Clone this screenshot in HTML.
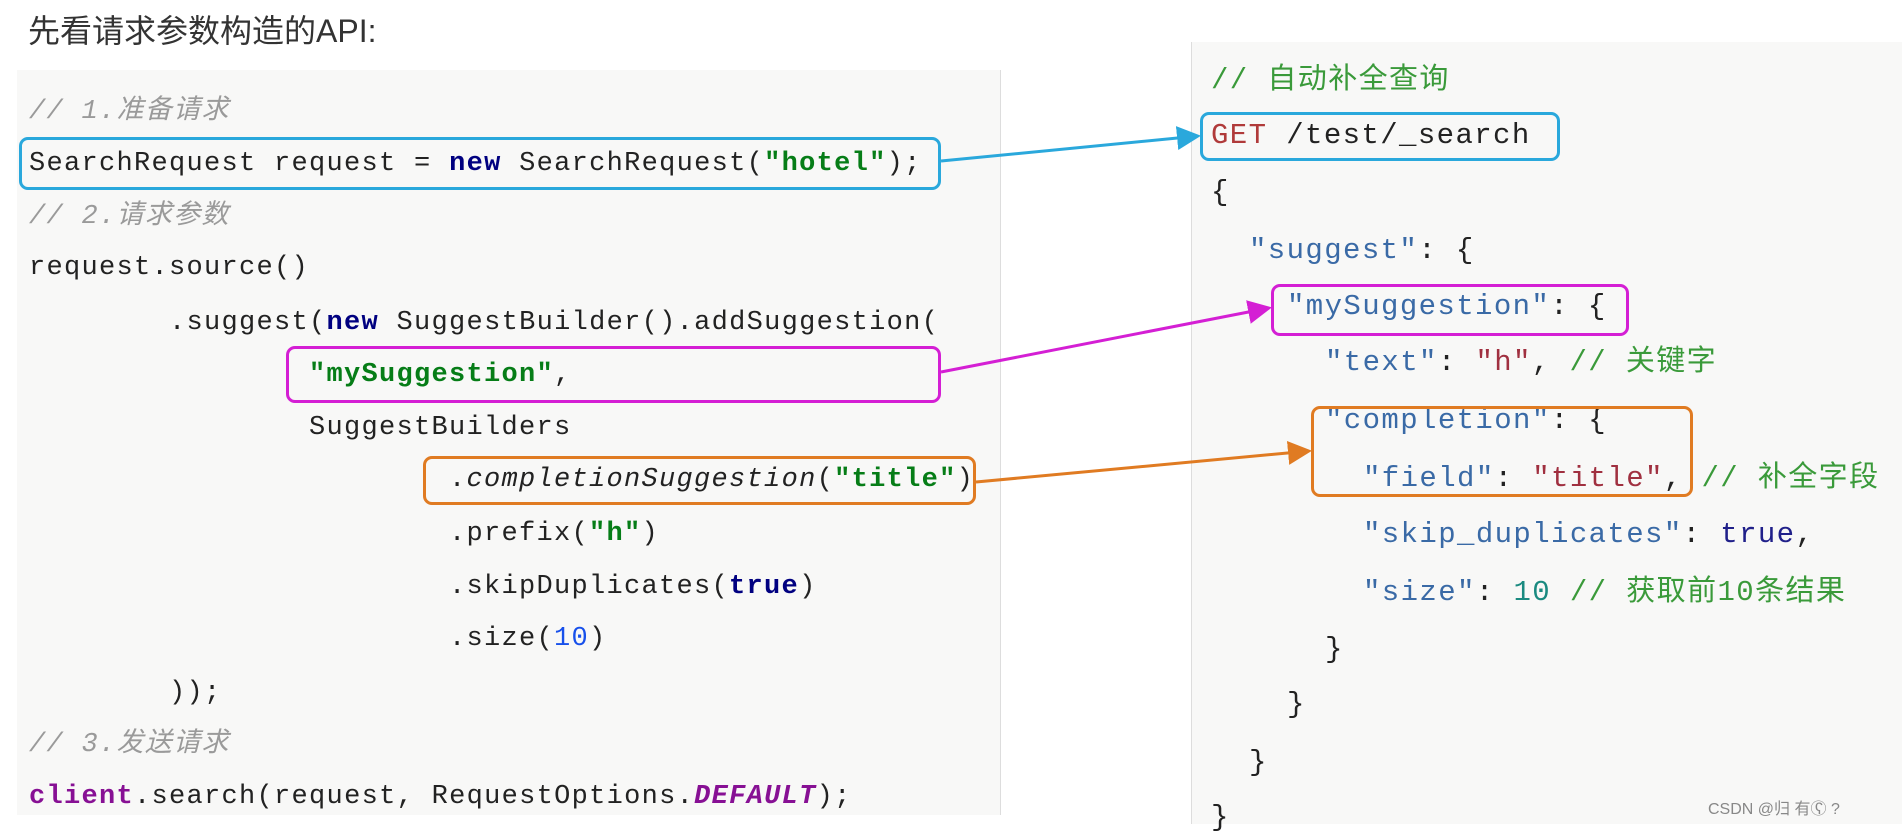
<!DOCTYPE html>
<html><head><meta charset="utf-8"><style>
body{margin:0;width:1902px;height:824px;overflow:hidden;background:#fff;position:relative;font-family:"Liberation Mono","Noto Sans CJK SC",monospace;}
.t{position:absolute;white-space:pre;font-size:27px;letter-spacing:1.3px;line-height:34px;color:#222;}
.r{font-size:29px;letter-spacing:1.4px;}
.c{color:#9a9a9a;font-style:italic;}
.k{color:#000080;font-weight:bold;}
.s{color:#067d17;font-weight:bold;}
.n{color:#1750eb;}
.p{color:#871094;font-weight:bold;}
.g{color:#3a9a3a;}
.red{color:#b03a3a;}
.key{color:#3a6aa6;}
.val{color:#a03040;}
.tr{color:#20208a;}
.num{color:#1a8a80;}
.box{position:absolute;border:3px solid;border-radius:9px;box-sizing:border-box;}
</style></head><body>
<div style="position:absolute;left:28px;top:6px;font-family:'Liberation Sans','Noto Sans CJK SC',sans-serif;font-size:32px;color:#333;">先看请求参数构造的API:</div>
<div style="position:absolute;left:17px;top:70px;width:983px;height:745px;background:#f8f8f7;border-right:1px solid #ddd;"></div>
<div style="position:absolute;left:1191px;top:42px;width:711px;height:782px;background:#f8f8f7;border-left:1px solid #ddd;"></div>

<div class="t c" style="left:29px;top:95px">// 1.准备请求</div>
<div class="t" style="left:29px;top:147px">SearchRequest request = <span class="k">new</span> SearchRequest(<span class="s">"hotel"</span>);</div>
<div class="t c" style="left:29px;top:200px">// 2.请求参数</div>
<div class="t" style="left:29px;top:251px">request.source()</div>
<div class="t" style="left:169px;top:306px">.suggest(<span class="k">new</span> SuggestBuilder().addSuggestion(</div>
<div class="t" style="left:309px;top:358px"><span class="s">"mySuggestion"</span>,</div>
<div class="t" style="left:309px;top:411px">SuggestBuilders</div>
<div class="t" style="left:449px;top:463px">.<i>completionSuggestion</i>(<span class="s">"title"</span>)</div>
<div class="t" style="left:449px;top:517px">.prefix(<span class="s">"h"</span>)</div>
<div class="t" style="left:449px;top:570px">.skipDuplicates(<span class="k">true</span>)</div>
<div class="t" style="left:449px;top:622px">.size(<span class="n">10</span>)</div>
<div class="t" style="left:169px;top:676px">));</div>
<div class="t c" style="left:29px;top:728px">// 3.发送请求</div>
<div class="t" style="left:29px;top:780px"><span class="p">client</span>.search(request, RequestOptions.<i class="p">DEFAULT</i>);</div>

<div class="t r g" style="left:1211px;top:64px">// 自动补全查询</div>
<div class="t r" style="left:1211px;top:119px"><span class="red">GET</span> /test/_search</div>
<div class="t r" style="left:1211px;top:176px">{</div>
<div class="t r" style="left:1249px;top:234px"><span class="key">"suggest"</span>: {</div>
<div class="t r" style="left:1287px;top:290px"><span class="key">"mySuggestion"</span>: {</div>
<div class="t r" style="left:1325px;top:346px"><span class="key">"text"</span>: <span class="val">"h"</span>, <span class="g">// 关键字</span></div>
<div class="t r" style="left:1325px;top:404px"><span class="key">"completion"</span>: {</div>
<div class="t r" style="left:1363px;top:462px"><span class="key">"field"</span>: <span class="val">"title"</span>, <span class="g">// 补全字段</span></div>
<div class="t r" style="left:1363px;top:518px"><span class="key">"skip_duplicates"</span>: <span class="tr">true</span>,</div>
<div class="t r" style="left:1363px;top:576px"><span class="key">"size"</span>: <span class="num">10</span> <span class="g">// 获取前10条结果</span></div>
<div class="t r" style="left:1325px;top:633px">}</div>
<div class="t r" style="left:1287px;top:688px">}</div>
<div class="t r" style="left:1249px;top:746px">}</div>
<div class="t r" style="left:1211px;top:801px">}</div>

<div class="box" style="left:19px;top:137px;width:922px;height:53px;border-color:#2aa8dc"></div>
<div class="box" style="left:1200px;top:112px;width:360px;height:49px;border-color:#2aa8dc"></div>
<div class="box" style="left:286px;top:346px;width:655px;height:57px;border-color:#d41fd4"></div>
<div class="box" style="left:1271px;top:284px;width:358px;height:52px;border-color:#d41fd4"></div>
<div class="box" style="left:423px;top:456px;width:553px;height:49px;border-color:#e07b22"></div>
<div class="box" style="left:1311px;top:406px;width:382px;height:91px;border-color:#e07b22"></div>

<svg width="1902" height="824" style="position:absolute;left:0;top:0">
<defs>
<marker id="a1" markerWidth="8" markerHeight="8" refX="7" refY="4" orient="auto" markerUnits="strokeWidth"><path d="M0,0L8,4L0,8z" fill="#2aa8dc"/></marker>
<marker id="a2" markerWidth="8" markerHeight="8" refX="7" refY="4" orient="auto" markerUnits="strokeWidth"><path d="M0,0L8,4L0,8z" fill="#d41fd4"/></marker>
<marker id="a3" markerWidth="8" markerHeight="8" refX="7" refY="4" orient="auto" markerUnits="strokeWidth"><path d="M0,0L8,4L0,8z" fill="#e07b22"/></marker>
</defs>
<line x1="941" y1="161" x2="1198" y2="136" stroke="#2aa8dc" stroke-width="3" marker-end="url(#a1)"/>
<line x1="941" y1="372" x2="1269" y2="308" stroke="#d41fd4" stroke-width="3" marker-end="url(#a2)"/>
<line x1="976" y1="482" x2="1309" y2="451" stroke="#e07b22" stroke-width="3" marker-end="url(#a3)"/>
</svg>
<div style="position:absolute;left:1708px;top:795px;font-family:'Liberation Sans','Noto Sans CJK SC',sans-serif;font-size:16px;color:#888;">CSDN @归 有 ʕ ⃝ ?</div>
</body></html>
